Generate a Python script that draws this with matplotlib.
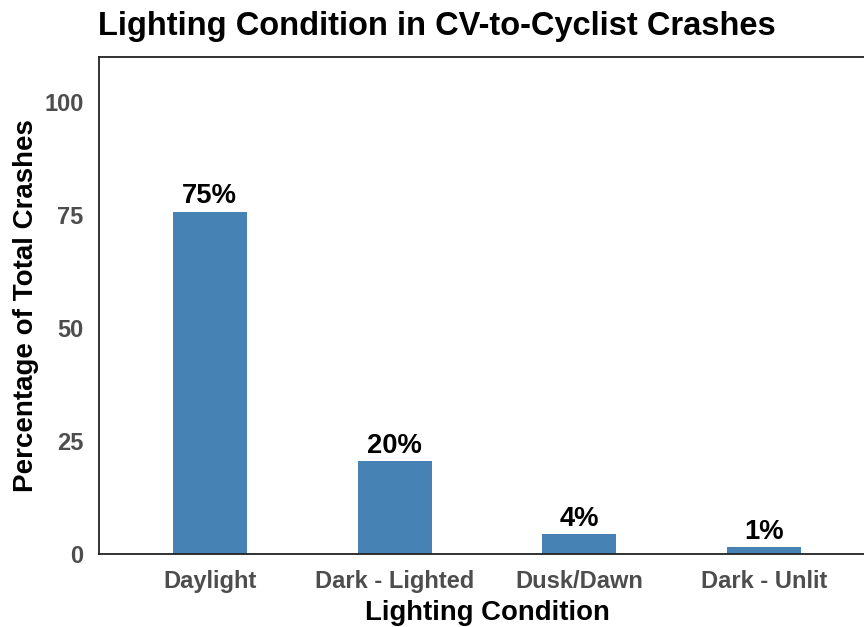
import matplotlib
matplotlib.use("Agg")
import matplotlib.pyplot as plt

categories = ["Daylight", "Dark - Lighted", "Dusk/Dawn", "Dark - Unlit"]
percentages = [75.8, 20.5, 4.3, 1.4]
bar_labels = ["75%", "20%", "4%", "1%"]
y_ticks = [0, 25, 50, 75, 100]

plt.rcParams['font.family'] = ['Liberation Sans', 'DejaVu Sans']

fig = plt.figure(figsize=(8.64, 6.27), dpi=100)
ax = fig.add_axes([99/864, 73.3/627, 776/864, 496.4/627])

x = list(range(len(categories)))
ax.bar(x, percentages, width=0.4, color="#4682B4")
for xi, v, lab in zip(x, percentages, bar_labels):
    ax.annotate(lab, (xi, v), xytext=(0, 6.1), textcoords="offset points",
                ha="center", va="baseline", fontsize=19.7, fontweight="bold",
                color="black")

ax.set_xlim(-0.6, len(categories) - 0.4)
ax.set_ylim(0, 110)
ax.set_xticks(x)
ax.set_xticklabels(categories)
ax.set_yticks(y_ticks)
ax.tick_params(axis="both", length=0, labelsize=17, colors="#4D4D4D")
ax.tick_params(axis="x", pad=11.5)
ax.tick_params(axis="y", pad=11)
for lab in ax.get_xticklabels() + ax.get_yticklabels():
    lab.set_fontweight("bold")

for s in ["left", "top", "bottom", "right"]:
    ax.spines[s].set_color("#222222")
    ax.spines[s].set_linewidth(1.3)

ax.set_xlabel("Lighting Condition", fontsize=19.8, fontweight="bold")
ax.set_ylabel("Percentage of Total Crashes", fontsize=20, fontweight="bold")
ax.xaxis.label.set_va("baseline")
ax.yaxis.label.set_va("baseline")
ax.xaxis.set_label_coords(0.5, (627 - 620 - 73.3) / 496.4)
ax.yaxis.set_label_coords((33 - 99) / 776, 0.5)

fig.text(98/864, 1 - 35/627, "Lighting Condition in CV-to-Cyclist Crashes",
         fontsize=23.5, fontweight="bold", ha="left", va="baseline")

fig.savefig("out.png", dpi=100)
